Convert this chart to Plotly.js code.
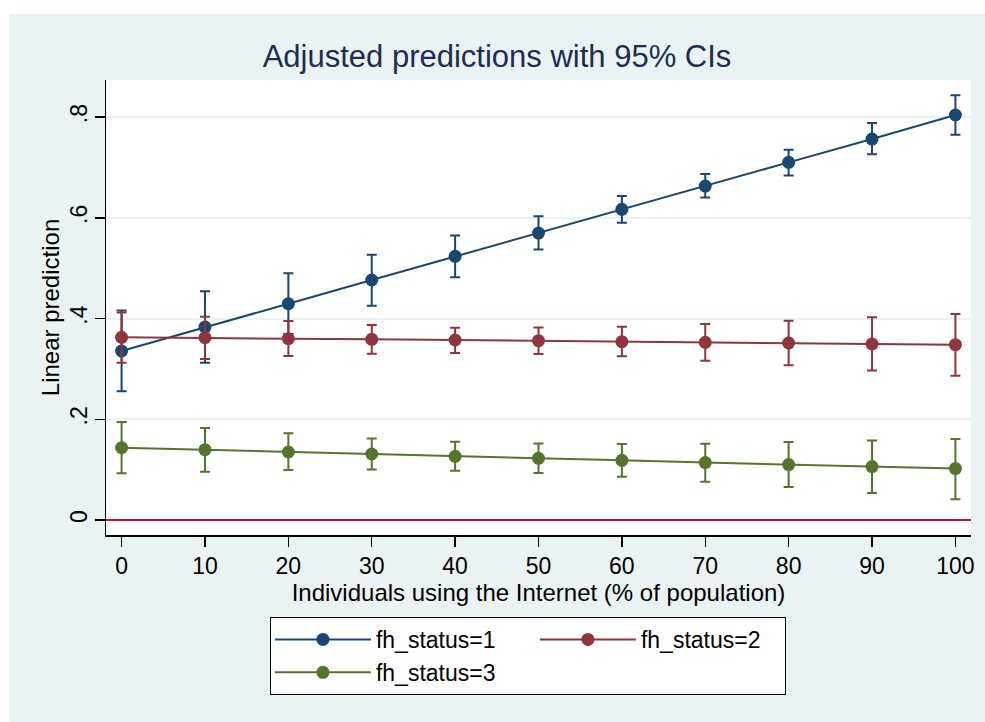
<!DOCTYPE html>
<html><head><meta charset="utf-8">
<script src="https://cdn.plot.ly/plotly-3.0.1.min.js"></script>
<style>
html,body{margin:0;padding:0;background:#ffffff;}
#chart{position:absolute;left:9px;top:14px;width:976px;height:708px;}
</style></head><body><div id="chart"></div>
<script>
const internetUse = [0, 10, 20, 30, 40, 50, 60, 70, 80, 90, 100];

const status1Pred  = [0.3355, 0.383, 0.4294, 0.4764, 0.5234, 0.5697, 0.6167, 0.663, 0.710, 0.7563, 0.804];
const status1Lower = [0.2555, 0.312, 0.369, 0.4255, 0.4817, 0.537, 0.590, 0.640, 0.684, 0.726, 0.765];
const status1Upper = [0.416, 0.454, 0.490, 0.5267, 0.565, 0.6028, 0.643, 0.687, 0.735, 0.788, 0.843];

const status2Pred  = [0.3626, 0.3619, 0.360, 0.3587, 0.3573, 0.356, 0.354, 0.3527, 0.3514, 0.3494, 0.348];
const status2Lower = [0.3123, 0.3196, 0.3256, 0.330, 0.3315, 0.3295, 0.325, 0.316, 0.307, 0.297, 0.2865];
const status2Upper = [0.412, 0.4037, 0.395, 0.387, 0.3818, 0.382, 0.3838, 0.389, 0.3957, 0.4023, 0.409];

const status3Pred  = [0.1436, 0.1396, 0.135, 0.131, 0.1264, 0.1224, 0.1185, 0.114, 0.110, 0.106, 0.102];
const status3Lower = [0.0926, 0.096, 0.0993, 0.100, 0.098, 0.0933, 0.086, 0.076, 0.0655, 0.0536, 0.041];
const status3Upper = [0.1945, 0.1826, 0.172, 0.162, 0.1555, 0.152, 0.151, 0.1515, 0.155, 0.158, 0.161];

const seriesNames = ['fh_status=1', 'fh_status=2', 'fh_status=3'];
const seriesColors = ['#1A476F', '#90353B', '#55752F'];
const legendColumns = ['col1', 'col2', 'col1'];
const legendWidths = [154, 139, 154];

const xTickVals = [0, 10, 20, 30, 40, 50, 60, 70, 80, 90, 100];
const xTickText = ['0', '10', '20', '30', '40', '50', '60', '70', '80', '90', '100'];
const yTickVals = [0, 0.2, 0.4, 0.6, 0.8];
const yTickText = ['0', '.2', '.4', '.6', '.8'];

const FONT = '"Liberation Sans", Arial, sans-serif';

function makeTrace(i, pred, lower, upper) {
  const color = seriesColors[i];
  return {
    type: 'scatter', mode: 'lines+markers', name: seriesNames[i],
    legendgroup: legendColumns[i],
    legendwidth: legendWidths[i],
    x: internetUse, y: pred,
    line: {color: color, width: 2},
    marker: {color: color, size: 13},
    error_y: {
      type: 'data', symmetric: false,
      array: pred.map((v, k) => upper[k] - v),
      arrayminus: pred.map((v, k) => v - lower[k]),
      color: color, thickness: 2, width: 5
    },
    hoverinfo: 'x+y+name'
  };
}

const data = [
  makeTrace(0, status1Pred, status1Lower, status1Upper),
  makeTrace(1, status2Pred, status2Lower, status2Upper),
  makeTrace(2, status3Pred, status3Lower, status3Upper)
];

const layout = {
  width: 976, height: 708,
  paper_bgcolor: '#EAF2F3', plot_bgcolor: '#FFFFFF',
  margin: {l: 97, r: 14, t: 66, b: 187, autoexpand: false},
  font: {family: FONT, color: '#000000', size: 23},
  title: {
    text: 'Adjusted predictions with 95% CIs',
    font: {family: FONT, size: 31, color: '#1E2D53'},
    xref: 'container', x: 0.5, xanchor: 'center',
    yref: 'container', y: 0.94, yanchor: 'middle'
  },
  xaxis: {
    range: [-1.87, 101.87],
    tickvals: xTickVals, ticktext: xTickText,
    showgrid: false, zeroline: false,
    showline: true, linecolor: '#000000', linewidth: 1.5,
    ticks: 'outside', ticklen: 10, tickwidth: 1.5, tickcolor: '#000000',
    tickfont: {family: FONT, size: 23, color: '#000000'},
    title: {text: 'Individuals using the Internet (% of population)', font: {family: FONT, size: 24, color: '#000000'}, standoff: 0},
    automargin: false,
    fixedrange: true
  },
  yaxis: {
    range: [-0.0298, 0.8735],
    tickvals: yTickVals, ticktext: yTickText,
    tickangle: -90,
    ticklabelstandoff: -2,
    showgrid: true, gridcolor: '#EAF2F3', gridwidth: 2,
    zeroline: true, zerolinecolor: '#C8102E', zerolinewidth: 2,
    showline: true, linecolor: '#000000', linewidth: 1.5,
    ticks: 'outside', ticklen: 10, tickwidth: 1.5, tickcolor: '#000000',
    tickfont: {family: FONT, size: 23, color: '#000000'},
    title: {text: 'Linear prediction', font: {family: FONT, size: 24, color: '#000000'}, standoff: 0},
    automargin: false,
    fixedrange: true
  },
  legend: {
    orientation: 'h',
    xref: 'paper', yref: 'paper',
    x: 0.1895, xanchor: 'left', y: -0.1802, yanchor: 'top',
    bgcolor: '#FFFFFF', bordercolor: '#000000', borderwidth: 1,
    font: {family: FONT, size: 23, color: '#000000'},
    entrywidthmode: 'pixels',
    itemwidth: 96,
    traceorder: 'grouped',
    tracegroupgap: 0
  },
  showlegend: true
};

Plotly.newPlot('chart', data, layout, {displayModeBar: false, staticPlot: true});
</script>
</body></html>
